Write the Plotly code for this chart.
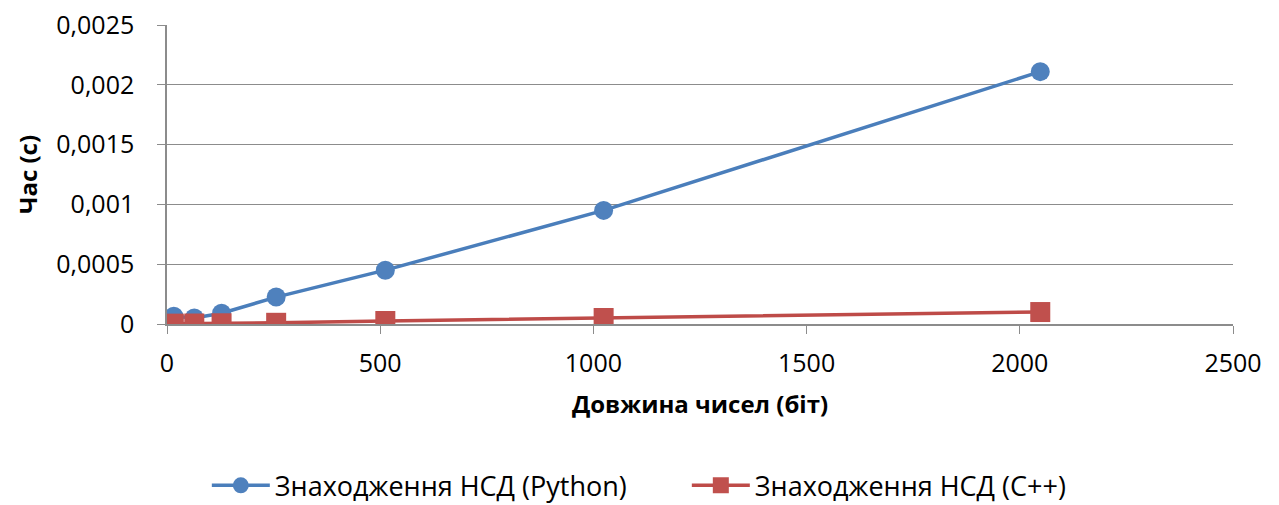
import plotly.graph_objects as go

bits = [16, 64, 128, 256, 512, 1024, 2048]
python_time = [0.000065, 0.00005, 0.00009, 0.000225, 0.00045, 0.00095, 0.00211]
cpp_time = [0.000003, 0.000004, 0.000006, 0.00001, 0.000025, 0.00005, 0.0001]

series_names = ["Знаходження НСД (Python)", "Знаходження НСД (C++)"]
y_ticks = [0, 0.0005, 0.001, 0.0015, 0.002, 0.0025]
y_ticktext = ["0", "0,0005", "0,001", "0,0015", "0,002", "0,0025"]
x_ticks = [0, 500, 1000, 1500, 2000, 2500]

font_family = "Open Sans, sans-serif"

fig = go.Figure()
fig.add_trace(go.Scatter(
    x=bits, y=python_time, name=series_names[0], mode="lines+markers",
    line=dict(color="#4A7EBB", width=3.5),
    marker=dict(symbol="circle", size=19, color="#4F81BD"),
))
fig.add_trace(go.Scatter(
    x=bits, y=cpp_time, name=series_names[1], mode="lines+markers",
    line=dict(color="#BE4B48", width=3.5),
    marker=dict(symbol="square", size=20, color="#C0504D"),
))

fig.update_layout(
    width=1279, height=505,
    margin=dict(l=167, r=46, t=25, b=181, autoexpand=False),
    paper_bgcolor="white", plot_bgcolor="white",
    font=dict(family=font_family, size=24, color="black"),
    showlegend=True,
    legend=dict(orientation="h", xref="container", yref="container",
                x=0.537, y=0.038, xanchor="center", yanchor="middle",
                font=dict(size=27, family=font_family),
                itemwidth=58, entrywidth=407, entrywidthmode="pixels",
                traceorder="normal"),
)
fig.update_xaxes(
    range=[0, 2500], tickvals=x_ticks, showgrid=False,
    showline=True, linecolor="#8C8C8C", linewidth=1.5,
    ticks="outside", ticklen=8, tickcolor="#8C8C8C",
    ticklabelstandoff=8,
    tickfont=dict(family=font_family, size=25),
    zeroline=False,
    title=dict(text="<b>Довжина чисел (біт)</b>", font=dict(family=font_family, size=24), standoff=18),
)
fig.update_yaxes(
    range=[0, 0.0025], tickvals=y_ticks, ticktext=y_ticktext,
    showgrid=True, gridcolor="#8C8C8C", gridwidth=1.2,
    showline=True, linecolor="#8C8C8C", linewidth=1.5,
    ticks="outside", ticklen=8, tickcolor="#8C8C8C",
    ticklabelstandoff=18,
    tickfont=dict(family=font_family, size=25),
    zeroline=False,
    title=dict(text="<b>Час (с)</b>", font=dict(family=font_family, size=24), standoff=12),
)

fig.write_html("out.html", config={"displayModeBar": False},
               post_script="document.body.style.margin='0px';")
